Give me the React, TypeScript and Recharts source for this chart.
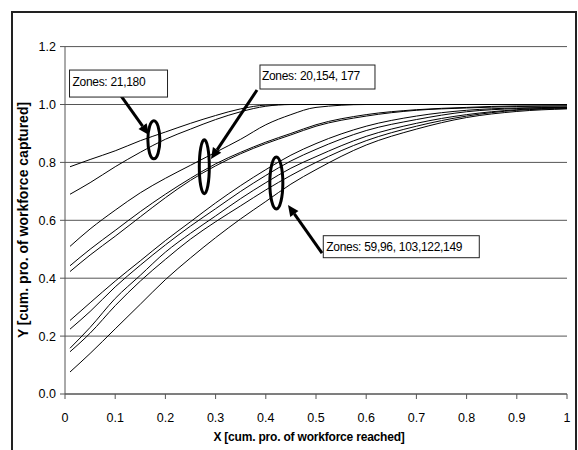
import React from 'react';
import { LineChart, Line, XAxis, YAxis, CartesianGrid, ReferenceDot, ReferenceLine } from 'recharts';

const xs = [0.01, 0.05, 0.1, 0.15, 0.2, 0.25, 0.3, 0.35, 0.4, 0.45, 0.5, 0.6, 0.7, 0.8, 0.9, 1.0];

const zone21 = [0.785, 0.81, 0.84, 0.875, 0.905, 0.935, 0.962, 0.985, 0.998, 1.0, 1.0, 1.0, 1.0, 1.0, 1.0, 1.0];
const zone180 = [0.69, 0.73, 0.785, 0.835, 0.88, 0.915, 0.948, 0.975, 0.994, 1.0, 1.0, 1.0, 1.0, 1.0, 1.0, 1.0];
const zone20 = [0.51, 0.57, 0.635, 0.695, 0.745, 0.79, 0.835, 0.88, 0.93, 0.965, 0.99, 1.0, 1.0, 1.0, 1.0, 1.0];
const zone154 = [0.443, 0.5, 0.565, 0.63, 0.69, 0.745, 0.795, 0.835, 0.87, 0.9, 0.93, 0.965, 0.982, 0.99, 0.995, 0.995];
const zone177 = [0.423, 0.48, 0.545, 0.612, 0.678, 0.738, 0.788, 0.83, 0.865, 0.895, 0.925, 0.96, 0.98, 0.988, 0.993, 0.995];
const zone59 = [0.254, 0.315, 0.39, 0.46, 0.53, 0.595, 0.66, 0.72, 0.775, 0.825, 0.865, 0.925, 0.96, 0.98, 0.988, 0.99];
const zone96 = [0.224, 0.285, 0.37, 0.445, 0.515, 0.58, 0.64, 0.7, 0.755, 0.805, 0.845, 0.91, 0.948, 0.975, 0.986, 0.99];
const zone103 = [0.158, 0.23, 0.33, 0.41, 0.49, 0.555, 0.615, 0.675, 0.73, 0.78, 0.82, 0.89, 0.935, 0.965, 0.982, 0.988];
const zone122 = [0.146, 0.21, 0.305, 0.39, 0.465, 0.535, 0.595, 0.65, 0.705, 0.755, 0.8, 0.875, 0.925, 0.96, 0.98, 0.986];
const zone149 = [0.076, 0.14, 0.225, 0.31, 0.395, 0.47, 0.54, 0.605, 0.665, 0.725, 0.775, 0.86, 0.915, 0.955, 0.976, 0.985];

const seriesList = [zone21, zone180, zone20, zone154, zone177, zone59, zone96, zone103, zone122, zone149];

const xTicks = [0, 0.1, 0.2, 0.3, 0.4, 0.5, 0.6, 0.7, 0.8, 0.9, 1];
const yTicks = [0, 0.2, 0.4, 0.6, 0.8, 1.0, 1.2];

const xTitle = 'X [cum. pro. of workforce reached]';
const yTitle = 'Y [cum. pro. of workforce captured]';

// annotation anchors in data coordinates
const ellipseCenters = [
  { x: 0.177, y: 0.878, rx: 6, ry: 19 },
  { x: 0.2775, y: 0.785, rx: 5, ry: 27 },
  { x: 0.421, y: 0.729, rx: 6.5, ry: 26 },
];

const calloutTexts = ['Zones: 21,180', 'Zones: 20,154, 177', 'Zones: 59,96, 103,122,149'];
const calloutCorners = [
  { x: 0.009, y: 1.119, w: 98, h: 27, tx: 3, ty: 16 },
  { x: 0.3884, y: 1.1364, w: 115, h: 24, tx: 2, ty: 14.5 },
  { x: 0.5145, y: 0.5468, w: 156, h: 22, tx: 3, ty: 15.5 },
];
const arrowTails = [
  { x: 0.1116, y: 1.0294 },
  { x: 0.3825, y: 1.0501 },
  { x: 0.512, y: 0.487 },
];
const arrowTips = [
  { x: 0.1673, y: 0.8946 },
  { x: 0.2908, y: 0.8117 },
  { x: 0.4442, y: 0.6528 },
];

const FONT = "Arial, 'Liberation Sans', sans-serif";

const ArrowShape = (props: any) => {
  const { x1, y1, x2, y2 } = props;
  const ang = Math.atan2(y2 - y1, x2 - x1);
  const L = 11;
  const W = 5;
  const bx = x2 - L * Math.cos(ang);
  const by = y2 - L * Math.sin(ang);
  const px = -Math.sin(ang) * W;
  const py = Math.cos(ang) * W;
  return (
    <g>
      <line x1={x1} y1={y1} x2={bx} y2={by} stroke="#000" strokeWidth={3} />
      <polygon points={`${x2},${y2} ${bx + px},${by + py} ${bx - px},${by - py}`} fill="#000" />
    </g>
  );
};

export default function App() {
  const seriesData = seriesList.map((ys) => xs.map((x, i) => ({ x, y: ys[i] })));
  return (
    <div style={{ position: 'fixed', left: 0, top: 0, width: 578, height: 450, overflow: 'hidden', background: '#fff' }}>
      <div
        style={{
          position: 'absolute',
          left: 11,
          top: 11,
          width: 562,
          height: 480,
          border: '2px solid #222',
        }}
      />
      <div style={{ position: 'absolute', left: 0, top: 0 }}>
        <LineChart width={578} height={450} margin={{ top: 46.6, right: 11, bottom: 0, left: 0 }}>
          <CartesianGrid horizontal={true} vertical={false} stroke="#555" strokeWidth={1} />
          <XAxis
            type="number"
            dataKey="x"
            domain={[0, 1]}
            ticks={xTicks}
            height={56}
            tickSize={5}
            tickMargin={14}
            interval={0}
            allowDataOverflow
            tickFormatter={(v: number) => String(Number(v.toFixed(1)))}
            stroke="#555"
            tick={{ fill: '#000', fontSize: 12.5, fontFamily: FONT }}
          />
          <YAxis
            type="number"
            domain={[0, 1.2]}
            ticks={yTicks}
            width={65}
            tickSize={5}
            tickMargin={4}
            interval={0}
            allowDataOverflow
            tickFormatter={(v: number) => v.toFixed(1)}
            stroke="#555"
            tick={{ fill: '#000', fontSize: 12.5, fontFamily: FONT }}
          />
          {seriesData.map((d, i) => (
            <Line
              key={i}
              data={d}
              dataKey="y"
              type="monotone"
              stroke="#000"
              strokeWidth={1}
              dot={false}
              activeDot={false}
              isAnimationActive={false}
            />
          ))}
          {ellipseCenters.map((e, i) => (
            <ReferenceDot
              key={'e' + i}
              x={e.x}
              y={e.y}
              r={1}
              shape={(p: any) => (
                <ellipse cx={p.cx} cy={p.cy} rx={e.rx} ry={e.ry} fill="none" stroke="#000" strokeWidth={3} />
              )}
            />
          ))}
          {arrowTails.map((t, i) => (
            <ReferenceLine key={'a' + i} segment={[t, arrowTips[i]]} shape={ArrowShape} />
          ))}
          {calloutCorners.map((c, i) => (
            <ReferenceDot
              key={'c' + i}
              x={c.x}
              y={c.y}
              r={1}
              shape={(p: any) => (
                <g>
                  <rect x={p.cx} y={p.cy} width={c.w} height={c.h} fill="#fff" stroke="#222" strokeWidth={1} />
                  <text x={p.cx + c.tx} y={p.cy + c.ty} fontSize={12} fontFamily={FONT} fill="#000" letterSpacing={-0.3}>
                    {calloutTexts[i]}
                  </text>
                </g>
              )}
            />
          ))}
        </LineChart>
      </div>
      <div
        style={{
          position: 'absolute',
          left: 309,
          top: 437,
          transform: 'translate(-50%, -50%)',
          fontFamily: FONT,
          fontWeight: 'bold',
          fontSize: 12,
          whiteSpace: 'nowrap',
          lineHeight: '14px',
          letterSpacing: -0.2,
        }}
      >
        {xTitle}
      </div>
      <div
        style={{
          position: 'absolute',
          left: 23,
          top: 220,
          transform: 'translate(-50%, -50%) rotate(-90deg)',
          fontFamily: FONT,
          fontWeight: 'bold',
          fontSize: 14,
          whiteSpace: 'nowrap',
          lineHeight: '16px',
        }}
      >
        {yTitle}
      </div>
    </div>
  );
}
